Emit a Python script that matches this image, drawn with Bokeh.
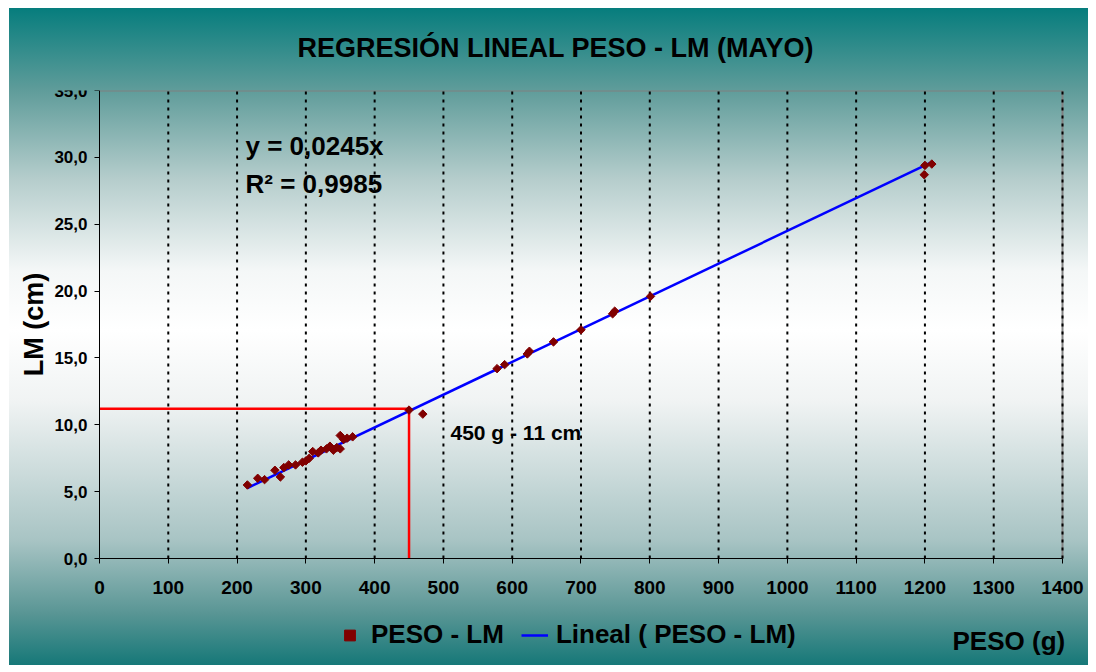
import math
from bokeh.plotting import figure
from bokeh.models import (Label, Legend, LegendItem, FixedTicker,
                          CustomJSTickFormatter)
from bokeh.embed import file_html
from bokeh.resources import INLINE

# ---------------- data ----------------
peso = [215, 230, 240, 255, 263, 268, 275, 285, 295, 300, 305, 310, 318, 322,
        330, 335, 340, 345, 350, 350, 355, 360, 368, 450, 470, 578, 589, 622,
        625, 660, 700, 746, 749, 801, 1199, 1200, 1210]
lm = [5.5, 6.0, 5.9, 6.6, 6.1, 6.8, 7.0, 7.0, 7.2, 7.3, 7.5, 8.0, 7.9, 8.1,
      8.2, 8.4, 8.1, 8.3, 9.2, 8.2, 8.9, 9.0, 9.1, 11.1, 10.8, 14.2, 14.5,
      15.3, 15.5, 16.2, 17.1, 18.3, 18.5, 19.6, 28.7, 29.4, 29.5]
x_ticks = [0, 100, 200, 300, 400, 500, 600, 700, 800, 900, 1000, 1100, 1200,
           1300, 1400]
y_ticks = [0, 5, 10, 15, 20, 25, 30, 35]
slope = 0.0245
r2_text = "0,9985"
cut_x = 450
cut_y = 11.2
title_text = "REGRESIÓN LINEAL PESO - LM (MAYO)"
series_label = "PESO - LM"
trend_label = "Lineal ( PESO - LM)"
x_label = "PESO (g)"
y_label = "LM (cm)"
note_text = "450 g - 11 cm"

trend_x = [min(peso), max(peso)]
trend_y = [slope * v for v in trend_x]
x_max = x_ticks[-1]
y_max = y_ticks[-1]
# extra room around the data area so that axis texts and the legend row
# fall inside the drawing frame
x_lo = -130.84
x_hi = 1437.8
y_floor = -8.0

FONT = "Liberation Sans"

p = figure(width=1096, height=672, frame_width=1079, frame_height=575,
           x_range=(x_lo, x_hi), y_range=(y_floor, y_max),
           output_backend="svg", toolbar_location=None,
           min_border_left=9, min_border_right=8, min_border_top=90,
           min_border_bottom=0)
p.background_fill_alpha = 0
p.border_fill_alpha = 0
p.outline_line_color = None
p.styles = {"background": "linear-gradient(to bottom, #067d7d 0%, #5f9c9a 12.5%, "
                          "#b5cdcc 26%, #f4f7f7 40%, #ffffff 49%, #f0f3f3 60%, "
                          "#a8c4c4 81%, #5a9695 92%, #167878 100%) "
                          "9px 8px / 1079px 657px no-repeat #ffffff"}

# title
p.title.text = title_text
p.title.align = "left"
p.title.offset = 288
p.title.text_font = FONT
p.title.text_font_style = "bold"
p.title.text_font_size = "27px"
p.title.text_color = "black"
p.title.standoff = 55

# axes (placed at the data origin)
p.xaxis.ticker = FixedTicker(ticks=x_ticks)
p.yaxis.ticker = FixedTicker(ticks=y_ticks)
p.yaxis.formatter = CustomJSTickFormatter(code="return tick.toFixed(1).replace('.', ',');")
p.xaxis.fixed_location = 0
p.yaxis.fixed_location = 0
p.xaxis.bounds = (0, x_max)
p.yaxis.bounds = (0, y_max)
for ax in (p.xaxis[0], p.yaxis[0]):
    ax.axis_line_color = "black"
    ax.axis_line_width = 1
    ax.major_tick_line_color = "black"
    ax.major_tick_in = 0
    ax.major_tick_out = 5
    ax.minor_tick_line_color = None
    ax.major_label_text_font = FONT
    ax.major_label_text_font_style = "bold"
    ax.major_label_text_color = "black"
p.xaxis.major_label_text_font_size = "19px"
p.xaxis.major_label_standoff = 17
p.yaxis.major_label_text_font_size = "17px"
p.yaxis.major_label_standoff = 7

# grid lines and frame edges drawn over the data area only
p.xgrid.visible = False
p.ygrid.visible = False
p.segment(x0=[0, x_max], y0=[y_max, 0], x1=[x_max, x_max], y1=[y_max, y_max],
          line_color="#808080", line_width=2)
grid_x = x_ticks[1:]
p.segment(x0=grid_x, y0=[0] * len(grid_x), x1=grid_x, y1=[y_max] * len(grid_x),
          line_color="black", line_width=2, line_dash="3 5")

# red reference lines
p.line([0, cut_x], [cut_y, cut_y], line_color="#ff0000", line_width=2.5)
p.line([cut_x, cut_x], [0, cut_y], line_color="#ff0000", line_width=2.5)

# trend line and points
tl = p.line(trend_x, trend_y, line_color="#0000ff", line_width=2.5)
sc = p.scatter(peso, lm, marker="square", angle=math.pi / 4, size=6,
               fill_color="#800000", line_color="#800000")

legend = Legend(items=[LegendItem(label=series_label, renderers=[sc]),
                       LegendItem(label=trend_label, renderers=[tl])],
                orientation="horizontal", location=(327, 15),
                label_text_font=FONT, label_text_font_style="bold",
                label_text_font_size="26px", label_text_color="black",
                glyph_width=27, glyph_height=30, label_height=30,
                label_standoff=8, spacing=17, padding=0, margin=0,
                border_line_alpha=0, background_fill_alpha=0)
p.add_layout(legend, "center")

def lab(text, x, y, size, align="left", angle=0.0):
    p.add_layout(Label(x=x, y=y, x_units="screen", y_units="screen", text=text,
                       text_font=FONT, text_font_style="bold",
                       text_font_size=size, text_color="black", angle=angle,
                       text_align=align, text_baseline="middle"))

lab("y = 0,0245x", 236, 520, "26px")
lab("R² = " + r2_text, 236, 482, "26px")
lab(note_text, 441, 233, "21px")
lab(x_label, 943, 25, "26px")
lab(y_label, 24, 341, "27px", "center", math.pi / 2)

html = file_html(p, INLINE)
html = html.replace("</head>", "<style>html, body { overflow: hidden; }</style></head>", 1)
open("out.html", "w").write(html)
